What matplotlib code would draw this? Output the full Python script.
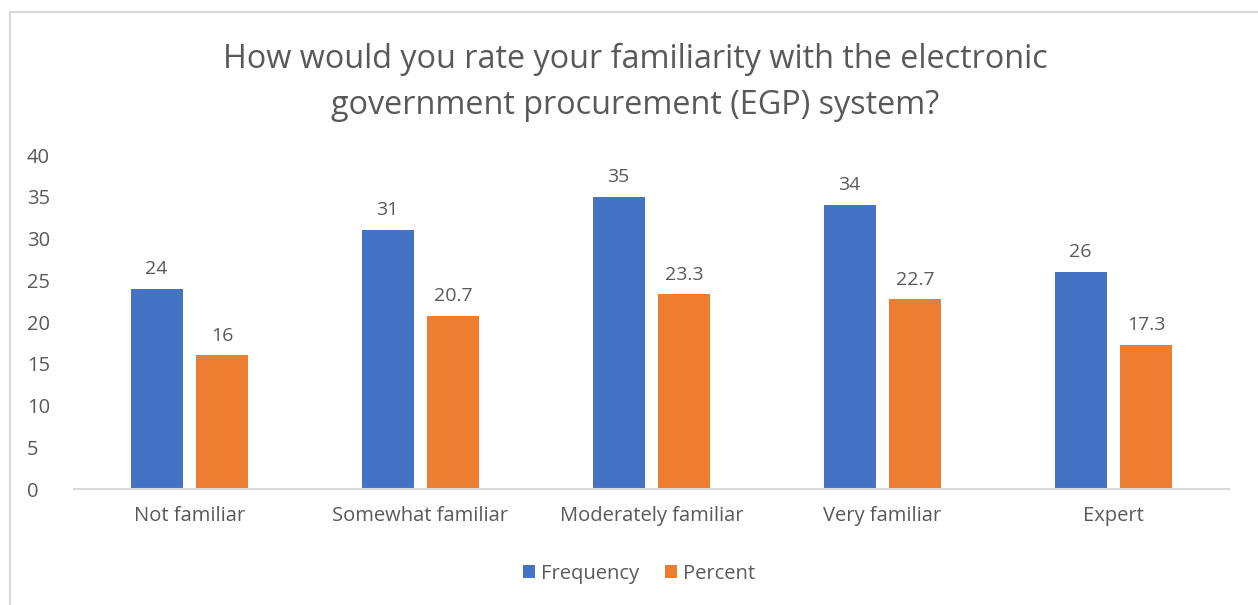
import numpy as np
import matplotlib.pyplot as plt
from matplotlib.patches import Rectangle

plt.rcParams["font.family"] = ["Open Sans", "DejaVu Sans"]

categories = ["Not familiar", "Somewhat familiar", "Moderately familiar", "Very familiar", "Expert"]
frequency = [24, 31, 35, 34, 26]
percent = [16, 20.7, 23.3, 22.7, 17.3]

blue = "#4472C4"
orange = "#ED7D31"
text_col = "#595959"

fig = plt.figure(figsize=(12.58, 6.05), dpi=100)
ax = fig.add_axes([0.0588, 0.1917, 0.9182, 0.5521])

# light frame around the chart area
fig.patches.append(Rectangle((10 / 1258, -0.1), 1.2, 1.1 - 12 / 605, transform=fig.transFigure,
                             fill=False, edgecolor="#D9D9D9", linewidth=1.5))

x = np.arange(len(categories))
w = 0.225
gap = 0.06
b1 = ax.bar(x - (w + gap) / 2, frequency, w, color=blue, label="Frequency")
b2 = ax.bar(x + (w + gap) / 2, percent, w, color=orange, label="Percent")

for bars, vals in [(b1, frequency), (b2, percent)]:
    for r, v in zip(bars, vals):
        ax.text(r.get_x() + r.get_width() / 2, r.get_height() + 1.3, f"{v:g}",
                ha="center", va="bottom", fontsize=14, color=text_col)

ax.set_xlim(-0.5, len(categories) - 0.5)
ax.set_ylim(0, 40)
ax.set_yticks(range(0, 41, 5))
ax.set_xticks(x)
ax.set_xticklabels(categories)
ax.tick_params(axis="both", length=0, labelsize=14.5, colors=text_col)
ax.tick_params(axis="x", pad=12)
ax.tick_params(axis="y", pad=34)
for lbl in ax.get_yticklabels():
    lbl.set_horizontalalignment("left")

for s in ["top", "right", "left"]:
    ax.spines[s].set_visible(False)
ax.spines["bottom"].set_color("#D9D9D9")
ax.spines["bottom"].set_linewidth(1.5)

fig.text(0.505, 0.864, "How would you rate your familiarity with the electronic\ngovernment procurement (EGP) system?",
         ha="center", va="center", fontsize=23.3, color=text_col, linespacing=1.5)

fig.legend(handles=[b1, b2], loc="center", bbox_to_anchor=(0.508, 0.052), ncol=2, frameon=False,
           fontsize=14.5, labelcolor=text_col, handlelength=0.6, handleheight=0.6,
           handletextpad=0.3, columnspacing=1.3)

fig.savefig("out.png", dpi=100)
